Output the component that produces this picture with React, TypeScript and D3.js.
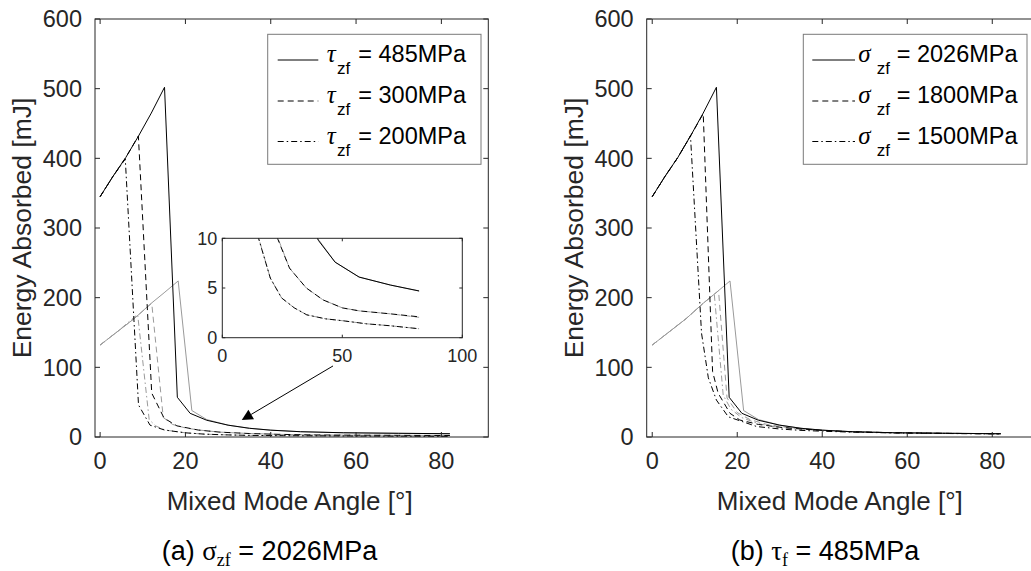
import React from 'react';
import * as d3 from 'd3';

// ---------- ticks ----------
const xTicks = [0, 20, 40, 60, 80];
const yTicks = [0, 100, 200, 300, 400, 500, 600];
const insetXTicks = [0, 50, 100];
const insetYTicks = [0, 5, 10];

// ---------- panel (a): sigma_zf = 2026MPa, tau_zf varies ----------
// black (model 1)
const aSolidX = [0, 3, 6, 9, 12, 15.1, 18.1, 21.1, 25, 30, 35, 40, 47, 57, 70, 82];
const aSolidY = [345, 374, 401, 432, 465, 502, 57, 34, 24, 17, 12.5, 9.8, 7.6, 6.1, 5.3, 4.7];
const aDashX = [0, 3, 6, 8.97, 12.1, 15, 18, 23, 28, 35, 42, 50, 57, 70, 82];
const aDashY = [345, 374, 401, 432, 63, 27, 16, 10, 7, 5, 3.8, 3, 2.7, 2.4, 2.1];
const aDotX = [0, 3, 5.9, 9, 11.7, 15.1, 20, 24.7, 30, 35.2, 43, 50.4, 60, 70, 82];
const aDotY = [345, 374, 399, 46, 17, 10, 6, 4, 3, 2.3, 1.9, 1.7, 1.4, 1.2, 0.9];
// gray (model 2)
const aGSolidX = [0, 4, 8, 12, 15, 18.3, 21.5, 25, 30, 35, 40, 47, 57, 70, 82];
const aGSolidY = [132, 151, 170, 192, 207, 224, 38, 25, 17, 12.5, 9.9, 7.6, 6.1, 5.3, 4.7];
const aGDashX = [0, 4, 8, 12.1, 14.8, 17, 20, 23.2, 28, 35, 42, 50, 57, 70, 82];
const aGDashY = [132, 151, 170, 192, 28, 18, 13, 10, 7, 5, 3.8, 3, 2.7, 2.4, 2.05];
const aGDotX = [0, 4, 8.8, 11.5, 13, 15.2, 20, 24.7, 30, 35.2, 43, 50.4, 60, 70, 82];
const aGDotY = [132, 151, 176, 25, 16, 10, 6, 4, 3, 2.3, 1.9, 1.7, 1.4, 1.2, 0.9];

// ---------- panel (b): tau_f = 485MPa, sigma_zf varies ----------
const bSolidX = [0, 3, 6, 9, 12, 15.1, 18.1, 21.1, 25, 30, 35, 40, 47, 57, 70, 82];
const bSolidY = [345, 374, 401, 432, 465, 502, 57, 34, 24, 17, 12.5, 9.8, 7.6, 6.1, 5.3, 4.7];
const bDashX = [0, 3, 6, 9, 12, 14.2, 15.5, 18.3, 20.6, 25, 30, 35, 40, 47, 57, 70, 82];
const bDashY = [345, 374, 401, 432, 464, 94, 63, 34, 24.4, 18, 14, 11.5, 9.5, 7.5, 6.1, 5.2, 4.6];
const bDotX = [0, 3, 6, 9, 11.6, 13.2, 15.1, 17.9, 24.6, 30, 35, 40, 47, 57, 70, 82];
const bDotY = [345, 374, 401, 432.5, 149, 85, 53, 29, 15, 11.5, 9.5, 8.3, 7, 5.8, 5, 4.4];
const bGSolidX = [0, 4, 8, 12, 15, 18.3, 21.5, 25, 30, 35, 40, 47, 57, 70, 82];
const bGSolidY = [132, 151, 170, 192, 207, 224, 38, 25, 17, 12.5, 9.9, 7.6, 6.1, 5.3, 4.7];
const bGDashX = [0, 4, 8, 12, 15.6, 17.6, 20, 23, 27, 32, 40, 47, 57, 70, 82];
const bGDashY = [132, 151, 170, 192, 210, 56, 35, 25, 18, 13.5, 9.6, 7.5, 6.1, 5.2, 4.6];
const bGDotX = [0, 4, 8, 12, 14.6, 16.7, 18.5, 21, 25, 30, 40, 47, 57, 70, 82];
const bGDotY = [132, 151, 170, 192, 205, 60, 40, 28, 19, 13.5, 9, 7.2, 5.9, 5.0, 4.4];

// ---------- legends / captions ----------
const legendAValues = ['= 485MPa', '= 300MPa', '= 200MPa'];
const legendBValues = ['= 2026MPa', '= 1800MPa', '= 1500MPa'];

const SANS = "'Liberation Sans', Arial, Helvetica, sans-serif";
const SERIF = "'Liberation Serif', 'Times New Roman', serif";
const AX = '#262626';
const GRAY = '#9a9a9a';
const DASH = '6,4';
const DOT = '6,3,1.5,3';
const styles = [
  { color: '#000', dash: undefined as string | undefined },
  { color: '#000', dash: DASH },
  { color: '#000', dash: DOT },
];

const TOP = 19;
const BOTTOM = 437;

type S = { x: number[]; y: number[]; color: string; dash?: string };

function mk(xs: number[], ys: number[], color: string, dash?: string): S {
  return { x: xs, y: ys, color, dash };
}

const seriesA: S[] = [
  mk(aGSolidX, aGSolidY, GRAY),
  mk(aGDashX, aGDashY, GRAY, DASH),
  mk(aGDotX, aGDotY, GRAY, DOT),
  mk(aSolidX, aSolidY, '#000'),
  mk(aDashX, aDashY, '#000', DASH),
  mk(aDotX, aDotY, '#000', DOT),
];
const seriesB: S[] = [
  mk(bGSolidX, bGSolidY, GRAY),
  mk(bGDashX, bGDashY, GRAY, DASH),
  mk(bGDotX, bGDotY, GRAY, DOT),
  mk(bSolidX, bSolidY, '#000'),
  mk(bDashX, bDashY, '#000', DASH),
  mk(bDotX, bDotY, '#000', DOT),
];

function Lines({ series, sx, sy, clip }: { series: S[]; sx: any; sy: any; clip: string }) {
  return (
    <g clipPath={`url(#${clip})`}>
      {series.map((s, i) => {
        const pts = s.x.map((v, k) => [v, s.y[k]] as [number, number]);
        const line = d3.line<[number, number]>().x((d) => sx(d[0])).y((d) => sy(d[1]));
        return (
          <path key={i} d={line(pts) || ''} fill="none" stroke={s.color} strokeWidth={1}
            strokeDasharray={s.dash} />
        );
      })}
    </g>
  );
}

function Panel(props: {
  left: number; right: number; domain: [number, number]; series: S[]; clip: string;
  legendLeft: number; legendRight: number; lineX0: number; lineX1: number;
  symX: number; subX: number; valX: number; sym: string; values: string[];
  caption: React.ReactNode;
}) {
  const { left, right, domain, series, clip } = props;
  const sx = d3.scaleLinear().domain(domain).range([left, right]);
  const sy = d3.scaleLinear().domain([0, 600]).range([BOTTOM, TOP]);
  const tl = 5;
  const rowBase = [62, 103, 143.5];
  return (
    <g>
      <defs>
        <clipPath id={clip}>
          <rect x={left} y={TOP} width={right - left} height={BOTTOM - TOP} />
        </clipPath>
      </defs>
      <Lines series={series} sx={sx} sy={sy} clip={clip} />
      {/* axes box */}
      <rect x={left} y={TOP} width={right - left} height={BOTTOM - TOP} fill="none" stroke={AX} strokeWidth={1} />
      {xTicks.map((t) => (
        <g key={'x' + t}>
          <line x1={sx(t)} x2={sx(t)} y1={BOTTOM} y2={BOTTOM - tl} stroke={AX} />
          <line x1={sx(t)} x2={sx(t)} y1={TOP} y2={TOP + tl} stroke={AX} />
          <text x={sx(t)} y={468.5} textAnchor="middle" fontFamily={SANS} fontSize={23.5} fill={AX}>{t}</text>
        </g>
      ))}
      {yTicks.map((t) => (
        <g key={'y' + t}>
          <line x1={left} x2={left + tl} y1={sy(t)} y2={sy(t)} stroke={AX} />
          <line x1={right} x2={right - tl} y1={sy(t)} y2={sy(t)} stroke={AX} />
          <text x={left - 13} y={sy(t) + 8.4} textAnchor="end" fontFamily={SANS} fontSize={23.5} fill={AX}>{t}</text>
        </g>
      ))}
      <text x={(left + right) / 2 - 2} y={510} textAnchor="middle" fontFamily={SANS} fontSize={26} fill={AX}>
        Mixed Mode Angle [°]
      </text>
      <text transform={`translate(${left - 64},${(TOP + BOTTOM) / 2}) rotate(-90)`} textAnchor="middle"
        fontFamily={SANS} fontSize={26.5} fill={AX}>
        Energy Absorbed [mJ]
      </text>
      {/* legend */}
      <rect x={props.legendLeft} y={34.3} width={props.legendRight - props.legendLeft} height={130} fill="#fff"
        stroke="#7a7a7a" strokeWidth={1} />
      {props.values.map((v, i) => (
        <g key={'l' + i}>
          <line x1={props.lineX0} x2={props.lineX1} y1={rowBase[i] - 2} y2={rowBase[i] - 2}
            stroke={styles[i].color} strokeWidth={1} strokeDasharray={styles[i].dash} />
          <text x={props.symX} y={rowBase[i]} fontFamily={SERIF} fontStyle="italic" fontSize={25} fill="#000">{props.sym}</text>
          <text x={props.subX} y={rowBase[i] + 12} fontFamily={SANS} fontSize={17} fill="#000">zf</text>
          <text x={props.valX} y={rowBase[i]} fontFamily={SANS} fontSize={23.5} fill="#000">{v}</text>
        </g>
      ))}
      {props.caption}
    </g>
  );
}

export default function App() {
  // panel (a) scales for inset and arrow
  const axL = 95, axR = 488.3;
  const sxA = d3.scaleLinear().domain([-1.2, 91]).range([axL, axR]);
  const syA = d3.scaleLinear().domain([0, 600]).range([BOTTOM, TOP]);
  const inL = 222.3, inR = 462.3, inT = 238.3, inB = 337.7;
  const sxI = d3.scaleLinear().domain([0, 100]).range([inL, inR]);
  const syI = d3.scaleLinear().domain([0, 10]).range([inB, inT]);

  // arrow (data coords of panel a)
  const arrowFrom: [number, number] = [54.6, 102];
  const arrowTo: [number, number] = [33.2, 24.4];
  const ax1 = sxA(arrowFrom[0]), ay1 = syA(arrowFrom[1]);
  const ax2 = sxA(arrowTo[0]), ay2 = syA(arrowTo[1]);
  const ang = Math.atan2(ay2 - ay1, ax2 - ax1);
  const hl = 11, hw = 5.5;
  const bx = ax2 - hl * Math.cos(ang), by = ay2 - hl * Math.sin(ang);
  const head = `M${ax2},${ay2} L${bx + hw * Math.sin(ang)},${by - hw * Math.cos(ang)} L${bx - hw * Math.sin(ang)},${by + hw * Math.cos(ang)} Z`;

  const captionA = (
    <text x={269.5} y={560} textAnchor="middle" fontSize={27} fill="#000">
      <tspan fontFamily={SANS}>(a) </tspan>
      <tspan fontFamily={SERIF}>σ</tspan>
      <tspan fontFamily={SERIF} fontSize={18} dy={6}>zf</tspan>
      <tspan fontFamily={SANS} dy={-6}> = 2026MPa</tspan>
    </text>
  );
  const captionB = (
    <text x={825} y={560} textAnchor="middle" fontSize={27} fill="#000">
      <tspan fontFamily={SANS}>(b) </tspan>
      <tspan fontFamily={SERIF}>τ</tspan>
      <tspan fontFamily={SERIF} fontSize={18} dy={6}>f</tspan>
      <tspan fontFamily={SANS} dy={-6}> = 485MPa</tspan>
    </text>
  );

  return (
    <svg width={1031} height={571} style={{ position: 'absolute', left: 0, top: 0, background: '#fff' }}>
      <rect x={0} y={0} width={1031} height={571} fill="#fff" />
      <Panel left={axL} right={axR} domain={[-1.2, 91]} series={seriesA} clip="clipA"
        legendLeft={267.7} legendRight={481} lineX0={277.7} lineX1={318.3}
        symX={326.7} subX={337} valX={358.3} sym="τ" values={legendAValues} caption={captionA} />
      <Panel left={646.7} right={1036.9} domain={[-1.3, 90.5]} series={seriesB} clip="clipB"
        legendLeft={803.3} legendRight={1027} lineX0={812.3} lineX1={855}
        symX={858.3} subX={876.7} valX={896.7} sym="σ" values={legendBValues} caption={captionB} />

      {/* inset of panel (a) */}
      <defs>
        <clipPath id="clipInset">
          <rect x={inL} y={inT} width={inR - inL} height={inB - inT} />
        </clipPath>
      </defs>
      <rect x={inL} y={inT} width={inR - inL} height={inB - inT} fill="#fff" />
      <Lines series={seriesA} sx={sxI} sy={syI} clip="clipInset" />
      <rect x={inL} y={inT} width={inR - inL} height={inB - inT} fill="none" stroke={AX} strokeWidth={1} />
      {insetXTicks.map((t) => (
        <g key={'ix' + t}>
          <line x1={sxI(t)} x2={sxI(t)} y1={inB} y2={inB - 3} stroke={AX} />
          <line x1={sxI(t)} x2={sxI(t)} y1={inT} y2={inT + 3} stroke={AX} />
          <text x={sxI(t)} y={362} textAnchor="middle" fontFamily={SANS} fontSize={18} fill={AX}>{t}</text>
        </g>
      ))}
      {insetYTicks.map((t) => (
        <g key={'iy' + t}>
          <line x1={inL} x2={inL + 3} y1={syI(t)} y2={syI(t)} stroke={AX} />
          <line x1={inR} x2={inR - 3} y1={syI(t)} y2={syI(t)} stroke={AX} />
          <text x={inL - 5} y={syI(t) + 6.4} textAnchor="end" fontFamily={SANS} fontSize={18} fill={AX}>{t}</text>
        </g>
      ))}

      {/* arrow */}
      <line x1={ax1} y1={ay1} x2={bx} y2={by} stroke="#000" strokeWidth={1} />
      <path d={head} fill="#000" />
    </svg>
  );
}
